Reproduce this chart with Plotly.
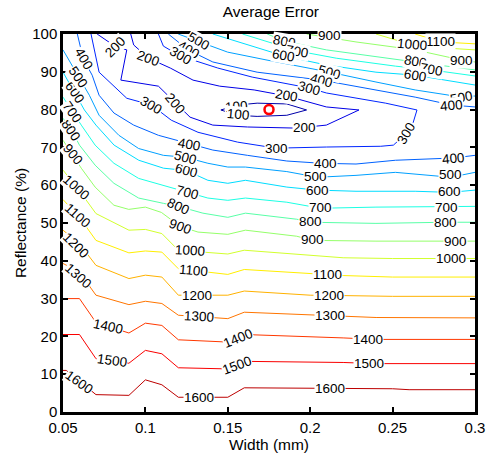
import plotly.graph_objects as go

# Contour paths of the average error surface, (width mm, reflectance %) pairs
err_100 = [(0.1458, 79.9), (0.1559, 81.2), (0.1678, 81.7), (0.1858, 81.5), (0.1978, 79.9),
           (0.1858, 78.5), (0.1678, 78.2), (0.1559, 78.5), (0.1458, 79.9)]
err_200 = [(0.0707, 100), (0.0821, 96.6), (0.0887, 95.8), (0.0851, 87.8), (0.1079, 86.2),
           (0.1181, 81.7), (0.1271, 78.0), (0.1409, 75.9), (0.1619, 75.4), (0.1918, 75.1),
           (0.2098, 75.9), (0.2296, 79.9), (0.2098, 80.7), (0.1858, 83.6), (0.1660, 85.2),
           (0.1451, 86.2), (0.1289, 87.8), (0.1151, 91.0), (0.1019, 93.6), (0.0929, 97.1),
           (0.0911, 100)]
err_300 = [(0.067, 100), (0.0719, 89.9), (0.0887, 83.0), (0.1037, 81.2), (0.1157, 77.2),
           (0.1319, 74.0), (0.1559, 71.4), (0.1793, 69.8), (0.2098, 70.1), (0.2428, 70.3),
           (0.2505, 70.6), (0.2583, 73.7), (0.2625, 76.6), (0.2648, 79.9), (0.2458, 81.7),
           (0.2278, 83.0), (0.2098, 84.4), (0.1996, 85.7), (0.1858, 86.8), (0.1648, 88.6),
           (0.1439, 91.0), (0.1211, 94.2), (0.1109, 96.8), (0.1079, 100)]
err_400_a = [(0.0587, 100), (0.0623, 93.4), (0.0677, 89.1), (0.0719, 83.8), (0.0809, 79.1),
             (0.0929, 75.9), (0.1079, 73.2), (0.1265, 70.9), (0.1409, 69.3), (0.1619, 67.9),
             (0.1858, 66.4), (0.2068, 65.8), (0.2278, 65.6), (0.2517, 66.6), (0.2871, 67.2),
             (0.30, 67.9)]
err_400_b = [(0.1139, 100), (0.1259, 95.8), (0.1409, 92.6), (0.1678, 89.9), (0.2068, 87.8),
             (0.2278, 86.2), (0.2637, 83.3), (0.2859, 81.2), (0.30, 80.7)]
err_500_a = [(0.05, 95.8), (0.0594, 88.6), (0.066, 83.8), (0.0719, 78.5), (0.0839, 73.2),
             (0.0959, 69.7), (0.1109, 67.9), (0.1241, 67.4), (0.1379, 65.8), (0.15, 64.8),
             (0.1607, 64.8), (0.1858, 63.6), (0.2044, 62.1), (0.2278, 62.6), (0.2517, 63.4),
             (0.2853, 62.1), (0.30, 63.4)]
err_500_b = [(0.1199, 100), (0.1325, 97.9), (0.1499, 95.2), (0.1738, 93.1), (0.2118, 89.9),
             (0.2399, 87.3), (0.2637, 85.2), (0.2919, 83.3), (0.30, 83.6)]
err_600_a = [(0.05, 89.9), (0.057, 84.4), (0.063, 79.9), (0.070, 75.9), (0.081, 70.6),
             (0.096, 66.6), (0.111, 64.5), (0.1247, 63.9), (0.1379, 61.3), (0.15, 60.5),
             (0.1607, 61.3), (0.1858, 59.5), (0.2044, 58.7), (0.2278, 58.4), (0.2637, 58.4),
             (0.2847, 58.1), (0.30, 58.7)]
err_600_b = [(0.1409, 100), (0.1619, 97.1), (0.184, 94.2), (0.2098, 91.8), (0.2399, 89.9),
             (0.2637, 89.1), (0.2817, 87.8), (0.30, 86.5)]
err_700_a = [(0.05, 83.3), (0.0558, 79.3), (0.0611, 75.9), (0.0695, 70.6), (0.0809, 65.8),
             (0.0959, 61.8), (0.1109, 60.0), (0.1253, 58.1), (0.1379, 56.6), (0.15, 56.0),
             (0.1607, 56.6), (0.1858, 55.5), (0.2062, 53.9), (0.2399, 54.2), (0.2829, 54.2),
             (0.30, 54.4)]
err_700_b = [(0.1589, 100), (0.1924, 95.5), (0.2158, 93.6), (0.2517, 91.5), (0.2733, 90.5),
             (0.30, 88.9)]
err_800_a = [(0.05, 77.7), (0.0552, 74.6), (0.06, 70.6), (0.0695, 65.3), (0.0809, 60.5),
             (0.0959, 56.6), (0.1109, 55.2), (0.12, 54.4), (0.1349, 52.6), (0.15, 51.5),
             (0.1607, 52.6), (0.1918, 51.0), (0.2002, 50.2), (0.2399, 49.9), (0.2823, 50.2),
             (0.30, 50.2)]
err_800_b = [(0.1739, 100), (0.1847, 98.1), (0.2098, 95.8), (0.2458, 93.6), (0.2637, 92.6),
             (0.30, 90.5)]
err_900_a = [(0.05, 71.9), (0.0552, 68.5), (0.0611, 64.5), (0.0695, 59.5), (0.0809, 54.7),
             (0.0899, 53.6), (0.10, 54.2), (0.1097, 52.8), (0.1211, 49.1), (0.1319, 47.6),
             (0.15, 47.0), (0.1607, 48.1), (0.1918, 46.5), (0.2014, 45.4), (0.2399, 45.2),
             (0.2883, 45.2), (0.30, 45.2)]
err_900_b = [(0.1978, 100), (0.2278, 97.9), (0.2637, 95.8), (0.2919, 93.1), (0.30, 92.6)]
err_1000_a = [(0.05, 64.0), (0.06, 58.5), (0.07, 52.5), (0.09, 48.1), (0.10, 48.3),
              (0.11, 47.2), (0.12, 42.8), (0.15, 41.8), (0.16, 42.8), (0.20, 41.4),
              (0.22, 40.8), (0.25, 40.6), (0.30, 40.6)]
err_1000_b = [(0.2399, 100), (0.262, 97.1), (0.2817, 96.3), (0.30, 95.8)]
err_1100_a = [(0.05, 56.2), (0.06, 51.5), (0.07, 45.4), (0.09, 42.1), (0.10, 42.6),
              (0.11, 42.3), (0.12, 37.9), (0.15, 36.4), (0.16, 37.7), (0.20, 36.6),
              (0.22, 36.1), (0.25, 35.7), (0.30, 35.7)]
err_1100_b = [(0.2637, 100), (0.2793, 97.9), (0.30, 97.4)]
err_1200 = [(0.05, 48.1), (0.06, 44.5), (0.07, 38.8), (0.09, 35.3), (0.10, 36.2), (0.11, 35.7),
            (0.12, 30.9), (0.15, 30.9), (0.16, 32.0), (0.20, 30.9), (0.22, 30.8), (0.25, 30.6),
            (0.30, 30.6)]
err_1300 = [(0.05, 39.3), (0.06, 37.0), (0.07, 30.9), (0.09, 28.4), (0.10, 29.3), (0.11, 28.7),
            (0.12, 25.6), (0.15, 24.7), (0.16, 26.4), (0.20, 25.6), (0.22, 25.4), (0.24, 25.0),
            (0.30, 24.9)]
err_1400 = [(0.05, 30.0), (0.06, 30.0), (0.07, 23.7), (0.09, 20.9), (0.10, 23.5), (0.11, 22.9),
            (0.12, 19.1), (0.15, 18.5), (0.16, 20.5), (0.20, 20.0), (0.22, 19.6), (0.24, 19.2),
            (0.30, 19.2)]
err_1500 = [(0.05, 20.5), (0.06, 20.5), (0.07, 14.1), (0.09, 12.9), (0.10, 16.3), (0.11, 15.4),
            (0.12, 11.7), (0.15, 11.4), (0.16, 13.4), (0.20, 13.3), (0.22, 13.1), (0.24, 12.8),
            (0.30, 12.8)]
err_1600 = [(0.05, 11.0), (0.052, 11.0), (0.07, 4.6), (0.09, 4.4), (0.10, 8.5), (0.11, 7.2),
            (0.12, 3.9), (0.15, 3.9), (0.16, 6.4), (0.25, 6.15), (0.26, 5.9), (0.30, 5.9)]

contour_paths = [
    (100, err_100), (200, err_200), (300, err_300),
    (400, err_400_a), (400, err_400_b), (500, err_500_a), (500, err_500_b),
    (600, err_600_a), (600, err_600_b), (700, err_700_a), (700, err_700_b),
    (800, err_800_a), (800, err_800_b), (900, err_900_a), (900, err_900_b),
    (1000, err_1000_a), (1000, err_1000_b), (1100, err_1100_a), (1100, err_1100_b),
    (1200, err_1200), (1300, err_1300), (1400, err_1400), (1500, err_1500), (1600, err_1600),
]

# Inline level labels: (level, width, reflectance, rotation)
level_labels = [
    (1600, 0.060, 7.8, 35), (1600, 0.1325, 3.9, 0), (1600, 0.212, 6.15, 0),
    (1500, 0.0795, 13.5, 8), (1500, 0.1555, 12.3, -20), (1500, 0.2355, 12.9, 0),
    (1400, 0.0775, 22.6, 12), (1400, 0.156, 19.5, -22), (1400, 0.235, 19.3, 0),
    (1300, 0.0588, 36.0, 42), (1300, 0.1325, 25.2, 3), (1300, 0.212, 25.5, 0),
    (1200, 0.058, 44.1, 45), (1200, 0.1313, 30.9, 0), (1200, 0.2115, 30.85, 0),
    (1100, 0.0588, 52.0, 42), (1100, 0.129, 37.45, 5), (1100, 0.2105, 36.5, 0), (1100, 0.279, 97.9, 0),
    (1000, 0.058, 59.3, 42), (1000, 0.127, 42.6, 3), (1000, 0.2856, 40.6, 0), (1000, 0.262, 97.1, 5),
    (900, 0.056, 68.0, 50), (900, 0.1211, 49.1, 20), (900, 0.2014, 45.6, 0), (900, 0.2883, 45.2, 0),
    (900, 0.212, 99.5, 0), (900, 0.2919, 93.0, 0),
    (800, 0.055, 74.6, 55), (800, 0.12, 54.4, 25), (800, 0.2002, 50.4, 0), (800, 0.2823, 50.1, 0),
    (800, 0.1847, 98.1, 10), (800, 0.2637, 92.6, 10),
    (700, 0.0558, 79.3, 55), (700, 0.1253, 58.1, 15), (700, 0.2062, 54.2, 0), (700, 0.2829, 54.2, 0),
    (700, 0.1924, 95.5, 10), (700, 0.2733, 90.5, 10),
    (600, 0.057, 84.4, 55), (600, 0.1247, 63.9, 15), (600, 0.2044, 58.7, 0), (600, 0.2847, 58.3, 0),
    (600, 0.184, 94.2, 10), (600, 0.2637, 89.1, 10),
    (500, 0.0594, 88.6, 55), (500, 0.1241, 67.4, 15), (500, 0.2030, 62.3, 0), (500, 0.2853, 62.8, 0),
    (500, 0.1325, 97.9, 30), (500, 0.2118, 89.9, 15), (500, 0.2919, 83.3, -10),
    (400, 0.0623, 93.4, 60), (400, 0.1265, 70.9, 10), (400, 0.2090, 65.7, 0), (400, 0.2871, 67.0, -5),
    (400, 0.1259, 95.8, 30), (400, 0.2068, 87.8, 15), (400, 0.2859, 81.2, -5),
    (300, 0.1037, 81.2, 30), (300, 0.1793, 69.8, 0), (300, 0.2583, 73.7, -60),
    (300, 0.1211, 94.2, 30), (300, 0.1996, 85.7, 15),
    (200, 0.0821, 96.6, -45), (200, 0.1019, 93.6, 20), (200, 0.1181, 81.7, 50),
    (200, 0.1858, 83.6, 10), (200, 0.1965, 75.2, 0),
    (100, 0.1554, 80.9, -5), (100, 0.1566, 78.8, 5),
]

minimum_point = (0.175, 80.0)

x_ticks = [0.05, 0.1, 0.15, 0.2, 0.25, 0.3]
x_tick_text = ["0.05", "0.1", "0.15", "0.2", "0.25", "0.3"]
y_ticks = [0, 10, 20, 30, 40, 50, 60, 70, 80, 90, 100]

C_LO, C_HI = 30.0, 1700.0


def jet(value):
    t = (value - C_LO) / (C_HI - C_LO)
    def ch(c):
        return int(round(255 * max(0.0, min(1.0, 1.5 - abs(4 * t - c)))))
    return f"rgb({ch(3)},{ch(2)},{ch(1)})"


fig = go.Figure()
for level, path in contour_paths:
    fig.add_trace(go.Scatter(
        x=[p[0] for p in path], y=[p[1] for p in path], mode="lines",
        line=dict(color=jet(level), width=1.0), hoverinfo="skip", showlegend=False,
    ))

fig.add_trace(go.Scatter(
    x=[minimum_point[0]], y=[minimum_point[1]], mode="markers",
    marker=dict(symbol="circle-open", size=9, color="red", line=dict(width=2.5, color="red")),
    showlegend=False, hoverinfo="skip",
))

label_font = dict(family="Liberation Sans, Arial, sans-serif", size=13.5, color="black")
for level, lx, ly, ang in level_labels:
    fig.add_annotation(
        x=lx, y=ly, text=str(level), showarrow=False, textangle=ang,
        font=label_font, bgcolor="white", borderpad=0,
        xanchor="center", yanchor="middle",
    )

axis_font = dict(family="Liberation Sans, Arial, sans-serif", size=15, color="black")
title_font = dict(family="Liberation Sans, Arial, sans-serif", size=15.5, color="black")
fig.update_layout(
    width=497, height=464, autosize=False,
    margin=dict(l=63, r=16, t=34, b=52),
    plot_bgcolor="white", paper_bgcolor="white",
    title=dict(text="Average Error", x=0.545, xanchor="center", y=0.986, yanchor="top",
               font=title_font),
    font=axis_font,
)
fig.update_xaxes(
    range=[0.05, 0.3], tickvals=x_ticks, ticktext=x_tick_text,
    ticks="inside", ticklen=5, tickwidth=2, tickcolor="black",
    showline=True, linewidth=2.5, linecolor="black", mirror="allticks",
    showgrid=False, zeroline=False,
    title=dict(text="Width (mm)", font=title_font, standoff=4),
    tickfont=axis_font,
)
fig.update_yaxes(
    range=[0, 100], tickvals=y_ticks,
    ticks="inside", ticklen=5, tickwidth=2, tickcolor="black",
    showline=True, linewidth=2.5, linecolor="black", mirror="allticks",
    showgrid=False, zeroline=False,
    title=dict(text="Reflectance (%)", font=title_font, standoff=2),
    tickfont=axis_font,
)

fig.write_html("out.html")
